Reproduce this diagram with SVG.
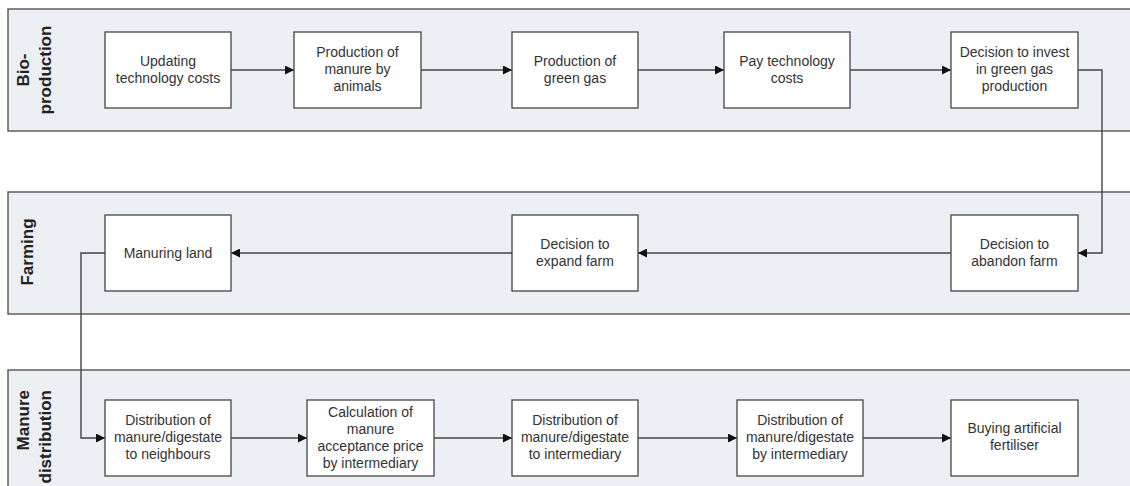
<svg xmlns="http://www.w3.org/2000/svg" width="1130" height="486" viewBox="0 0 1130 486">
<style>
.lane{fill:#eceff4;stroke:#555;stroke-width:1.4}
.lbl{font-family:"Liberation Sans",Arial,sans-serif;font-size:17px;font-weight:bold;fill:#222}
.box{fill:#fff;stroke:#444;stroke-width:1.3}
.t{font-family:"Liberation Sans",Arial,sans-serif;font-size:14px;fill:#333;text-anchor:middle}
.c{fill:none;stroke:#444;stroke-width:1.4}
</style>
<defs>
<marker id="ah" viewBox="0 0 10 10" refX="10" refY="5" markerWidth="9" markerHeight="9" markerUnits="userSpaceOnUse" orient="auto">
<path d="M0,0 L10,5 L0,10 Z" fill="#111"/>
</marker>
</defs>
<g id="lane-bio">
<rect class="lane" x="8" y="9" width="1130" height="122"/>
<text class="lbl" transform="translate(29,70) rotate(-90)" text-anchor="middle">Bio-</text>
<text class="lbl" transform="translate(51,70) rotate(-90)" text-anchor="middle">production</text>
</g>
<g id="lane-farming">
<rect class="lane" x="8" y="192" width="1130" height="122"/>
<text class="lbl" transform="translate(33,252) rotate(-90)" text-anchor="middle">Farming</text>
</g>
<g id="lane-manure">
<rect class="lane" x="8" y="370" width="1130" height="130"/>
<text class="lbl" transform="translate(29,390) rotate(-90)" text-anchor="end">Manure</text>
<text class="lbl" transform="translate(51,390) rotate(-90)" text-anchor="end">distribution</text>
</g>
<g id="connectors">
<line class="c" x1="231" y1="70" x2="294" y2="70" marker-end="url(#ah)"/>
<line class="c" x1="421" y1="70" x2="512" y2="70" marker-end="url(#ah)"/>
<line class="c" x1="638" y1="70" x2="724" y2="70" marker-end="url(#ah)"/>
<line class="c" x1="850" y1="70" x2="951" y2="70" marker-end="url(#ah)"/>
<polyline class="c" points="1078,70 1102,70 1102,253 1078,253" marker-end="url(#ah)"/>
<line class="c" x1="951" y1="253" x2="638" y2="253" marker-end="url(#ah)"/>
<line class="c" x1="512" y1="253" x2="231" y2="253" marker-end="url(#ah)"/>
<polyline class="c" points="105,253 81,253 81,438 105,438" marker-end="url(#ah)"/>
<line class="c" x1="231" y1="438" x2="307" y2="438" marker-end="url(#ah)"/>
<line class="c" x1="434" y1="438" x2="512" y2="438" marker-end="url(#ah)"/>
<line class="c" x1="638" y1="438" x2="737" y2="438" marker-end="url(#ah)"/>
<line class="c" x1="863" y1="438" x2="951" y2="438" marker-end="url(#ah)"/>
</g>
<g id="n-updating">
<rect class="box" x="105" y="32" width="126" height="76"/>
<text class="t" x="168" y="66">Updating</text>
<text class="t" x="168" y="83">technology costs</text>
</g>
<g id="n-manure-prod">
<rect class="box" x="294" y="32" width="127" height="76"/>
<text class="t" x="357.5" y="57">Production of</text>
<text class="t" x="357.5" y="74">manure by</text>
<text class="t" x="357.5" y="91">animals</text>
</g>
<g id="n-green-gas">
<rect class="box" x="512" y="32" width="126" height="76"/>
<text class="t" x="575" y="66">Production of</text>
<text class="t" x="575" y="83">green gas</text>
</g>
<g id="n-pay">
<rect class="box" x="724" y="32" width="126" height="76"/>
<text class="t" x="787" y="66">Pay technology</text>
<text class="t" x="787" y="83">costs</text>
</g>
<g id="n-invest">
<rect class="box" x="951" y="32" width="127" height="76"/>
<text class="t" x="1014.5" y="57">Decision to invest</text>
<text class="t" x="1014.5" y="74">in green gas</text>
<text class="t" x="1014.5" y="91">production</text>
</g>
<g id="n-manuring">
<rect class="box" x="105" y="215" width="126" height="76"/>
<text class="t" x="168" y="258">Manuring land</text>
</g>
<g id="n-expand">
<rect class="box" x="512" y="215" width="126" height="76"/>
<text class="t" x="575" y="249">Decision to</text>
<text class="t" x="575" y="266">expand farm</text>
</g>
<g id="n-abandon">
<rect class="box" x="951" y="215" width="127" height="76"/>
<text class="t" x="1014.5" y="249">Decision to</text>
<text class="t" x="1014.5" y="266">abandon farm</text>
</g>
<g id="n-dist-neigh">
<rect class="box" x="105" y="400" width="126" height="76"/>
<text class="t" x="168" y="425">Distribution of</text>
<text class="t" x="168" y="442">manure/digestate</text>
<text class="t" x="168" y="459">to neighbours</text>
</g>
<g id="n-calc">
<rect class="box" x="307" y="400" width="127" height="76"/>
<text class="t" x="370.5" y="417">Calculation of</text>
<text class="t" x="370.5" y="434">manure</text>
<text class="t" x="370.5" y="451">acceptance price</text>
<text class="t" x="370.5" y="468">by intermediary</text>
</g>
<g id="n-dist-inter">
<rect class="box" x="512" y="400" width="126" height="76"/>
<text class="t" x="575" y="425">Distribution of</text>
<text class="t" x="575" y="442">manure/digestate</text>
<text class="t" x="575" y="459">to intermediary</text>
</g>
<g id="n-dist-by">
<rect class="box" x="737" y="400" width="126" height="76"/>
<text class="t" x="800" y="425">Distribution of</text>
<text class="t" x="800" y="442">manure/digestate</text>
<text class="t" x="800" y="459">by intermediary</text>
</g>
<g id="n-buying">
<rect class="box" x="951" y="400" width="127" height="76"/>
<text class="t" x="1014.5" y="433">Buying artificial</text>
<text class="t" x="1014.5" y="450">fertiliser</text>
</g>
</svg>
